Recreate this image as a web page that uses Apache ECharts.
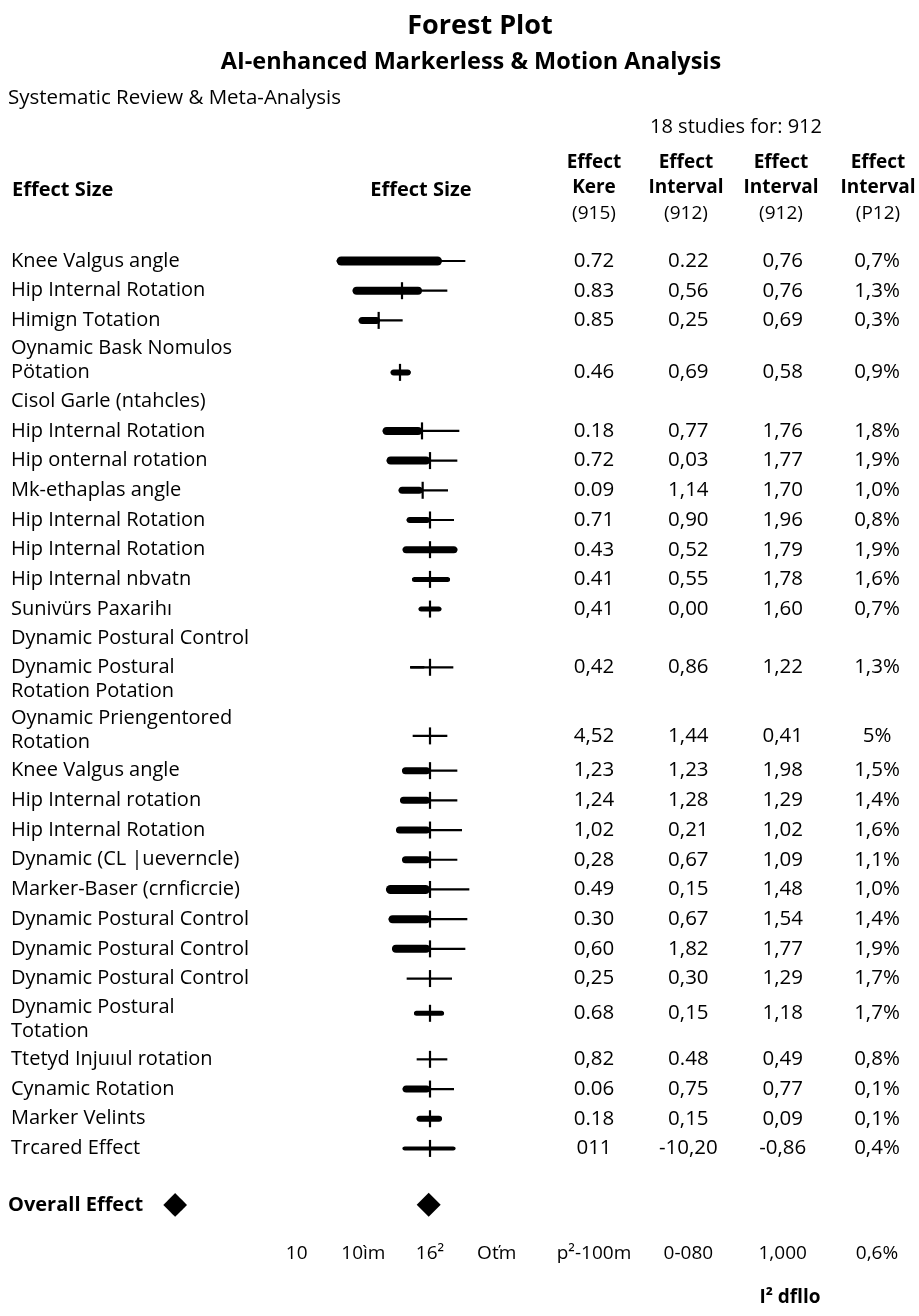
<!DOCTYPE html>
<html><head><meta charset="utf-8">
<script src="https://cdn.jsdelivr.net/npm/echarts@6/dist/echarts.min.js"></script>
<style>html,body{margin:0;padding:0;background:#fff}#c{width:919px;height:1316px}</style>
</head><body><div id="c"></div>
<script>
// ---------------- DATA ----------------
const studyLabels = [
  'Knee Valgus angle','Hip Internal Rotation','Himign Totation','Oynamic Bask Nomulos\nPötation',
  'Cisol Garle (ntahcles)','Hip Internal Rotation','Hip onternal rotation','Mk-ethaplas angle',
  'Hip Internal Rotation','Hip Internal Rotation','Hip Internal nbvatn','Sunivürs Paxarihı',
  'Dynamic Postural Control','Dynamic Postural\nRotation Potation','Oynamic Priengentored\nRotation',
  'Knee Valgus angle','Hip Internal rotation','Hip Internal Rotation','Dynamic (CL |ueverncle)',
  'Marker-Baser (crnficrcie)','Dynamic Postural Control','Dynamic Postural Control','Dynamic Postural Control',
  'Dynamic Postural\nTotation','Ttetyd Injuıul rotation','Cynamic Rotation','Marker Velints','Trcared Effect'
];
// forest interval: lower bound, end of heavy segment, point estimate, upper bound
const ciLow    = [-1.40,-1.16,-1.07,-0.59,null,-0.71,-0.65,-0.47,-0.35,-0.41,-0.27,-0.17,null,-0.30,-0.26,-0.42,-0.45,-0.51,-0.42,-0.66,-0.62,-0.57,-0.35,-0.24,-0.20,-0.41,-0.20,-0.41];
const heavyEnd = [ 0.18,-0.12,-0.75,-0.29,null,-0.12, 0.00,-0.11, 0.00, 0.41, 0.30, 0.17,null,-0.08,-0.26, 0.00, 0.00, 0.00, 0.00, 0.00, 0.00, 0.00,-0.35, 0.21,-0.20, 0.00, 0.18, 0.38];
const estimate = [ null,-0.42,-0.77,-0.45,null,-0.12, 0.00,-0.11, 0.00, 0.00, 0.00, 0.00,null, 0.00, 0.00, 0.00, 0.00, 0.00, 0.00, 0.00, 0.00, 0.00, 0.00, 0.00, 0.00, 0.00, 0.00, 0.00];
const ciHigh   = [ 0.53, 0.26,-0.41,-0.29,null, 0.44, 0.41, 0.27, 0.36, 0.41, 0.30, 0.17,null, 0.35, 0.26, 0.41, 0.41, 0.48, 0.41, 0.59, 0.56, 0.53, 0.33, 0.21, 0.26, 0.36, 0.18, 0.38];
const studyWeight = [9,8,7,6,null,8,8,7,6,7,5,5,null,2.5,1.5,7,7,7,7,9,8,8,2.5,5,1.5,7,6,4];
const overallEstimate = -0.02;

const colEffectKere = ['0.72','0.83','0.85','0.46','','0.18','0.72','0.09','0.71','0.43','0.41','0,41','','0,42','4,52','1,23','1,24','1,02','0,28','0.49','0.30','0,60','0,25','0.68','0,82','0.06','0.18','011'];
const colInterval1  = ['0.22','0,56','0,25','0,69','','0,77','0,03','1,14','0,90','0,52','0,55','0,00','','0,86','1,44','1,23','1,28','0,21','0,67','0,15','0,67','1,82','0,30','0,15','0.48','0,75','0,15','-10,20'];
const colInterval2  = ['0,76','0,76','0,69','0,58','','1,76','1,77','1,70','1,96','1,79','1,78','1,60','','1,22','0,41','1,98','1,29','1,02','1,09','1,48','1,54','1,77','1,29','1,18','0,49','0,77','0,09','-0,86'];
const colP12        = ['0,7%','1,3%','0,3%','0,9%','','1,8%','1,9%','1,0%','0,8%','1,9%','1,6%','0,7%','','1,3%','5%','1,5%','1,4%','1,6%','1,1%','1,0%','1,4%','1,9%','1,7%','1,7%','0,8%','0,1%','0,1%','0,4%'];

const headerLine1 = ['Effect','Effect','Effect','Effect'];
const headerLine2 = ['Kere','Interval','Interval','Interval'];
const headerLine3 = ['(915)','(912)','(912)','(P12)'];
const forestTickLabels = ['10','10ìm','16²','Oťm',''];
const tableTickLabels = ['p²-100m','0-080','1,000','0,6%'];

// ---------------- LAYOUT ----------------
const FONT = '"Open Sans", "Noto Sans", sans-serif';
const SLOT = 29.7;          // px per row slot
const FIRST_ROW_Y = 261;    // px of first row centre
const EXTRA_HALF = 0.36;    // extra slot (half) per extra label line
const markShift = {3: 0.39, 13: -0.4, 14: 0.19, 23: -0.19};

const lineCount = studyLabels.map(s => s.split('\n').length);
const rowSlot = [];
lineCount.forEach((n, i) => {
  if (i === 0) rowSlot.push(0);
  else rowSlot.push(rowSlot[i - 1] + 1 + EXTRA_HALF * ((lineCount[i - 1] - 1) + (n - 1)));
});
const markSlot = rowSlot.map((s, i) => s + (markShift[i] || 0));
const overallSlot = rowSlot[rowSlot.length - 1] + 1.9;
const yMax = overallSlot + 1.02;
const gridTop = FIRST_ROW_Y - 0.5 * SLOT;
const gridHeight = (yMax + 0.5) * SLOT;

const forestData = [];
ciLow.forEach((lo, i) => {
  if (lo === null) return;
  forestData.push([lo, markSlot[i], heavyEnd[i], estimate[i] === null ? NaN : estimate[i], ciHigh[i], studyWeight[i]]);
});
const labelData = studyLabels.map((t, i) => [0, rowSlot[i], i]);
const tableColumns = [colEffectKere, colInterval1, colInterval2, colP12];
const tableData = [];
tableColumns.forEach((col, c) => col.forEach((v, i) => { if (v !== '') tableData.push([c, markSlot[i], c * 1000 + i]); }));

const chart = echarts.init(document.getElementById('c'), null, {renderer: 'canvas'});

const yAxisCommon = {type: 'value', inverse: true, min: -0.5, max: yMax, show: false};

const graphics = [
  {type: 'text', x: 480, y: 26, style: {text: 'Forest Plot', font: 'bold 27px ' + FONT, fill: '#000', align: 'center', verticalAlign: 'middle'}},
  {type: 'text', x: 471, y: 62, style: {text: 'AI-enhanced Markerless & Motion Analysis', font: 'bold 23.5px ' + FONT, fill: '#000', align: 'center', verticalAlign: 'middle'}},
  {type: 'text', x: 8, y: 98, style: {text: 'Systematic Review & Meta-Analysis', font: '20.5px ' + FONT, fill: '#000', align: 'left', verticalAlign: 'middle'}},
  {type: 'text', x: 736, y: 127, style: {text: '18 studies for: 912', font: '20px ' + FONT, fill: '#000', align: 'center', verticalAlign: 'middle'}},
  {type: 'text', x: 12, y: 190, style: {text: 'Effect Size', font: 'bold 20px ' + FONT, fill: '#000', align: 'left', verticalAlign: 'middle'}},
  {type: 'text', x: 421, y: 190, style: {text: 'Effect Size', font: 'bold 20px ' + FONT, fill: '#000', align: 'center', verticalAlign: 'middle'}},
  {type: 'text', x: 790, y: 1298, style: {text: 'I² dfllo', font: 'bold 19px ' + FONT, fill: '#000', align: 'center', verticalAlign: 'middle'}},
  {type: 'text', x: 8, y: 1205, style: {
    text: '{a|Overall Effect}{b|◆}', align: 'left', verticalAlign: 'middle',
    rich: {a: {font: 'bold 20px ' + FONT, fill: '#000', padding: [0, 20, 0, 0]}, b: {fontSize: 31, fontFamily: 'DejaVu Sans', fill: '#000'}}
  }}
];
const headerX = [594, 686, 781, 878];
headerX.forEach((x, c) => {
  graphics.push({type: 'text', x: x, y: 188, style: {
    text: '{b|' + headerLine1[c] + '}\n{b|' + headerLine2[c] + '}\n{r|' + headerLine3[c] + '}',
    align: 'center', verticalAlign: 'middle',
    rich: {b: {font: 'bold 19px ' + FONT, fill: '#000', lineHeight: 25.5, align: 'center'}, r: {font: '19px ' + FONT, fill: '#000', lineHeight: 25.5, align: 'center'}}
  }});
});

chart.setOption({
  animation: false,
  backgroundColor: '#fff',
  grid: [
    {left: 430 - 133.333, width: 266.667, top: gridTop, height: gridHeight},
    {left: 594, width: 283, top: gridTop, height: gridHeight}
  ],
  xAxis: [
    {gridIndex: 0, type: 'value', min: -2, max: 2, interval: 1, axisLine: {show: false}, axisTick: {show: false}, splitLine: {show: false},
      axisLabel: {margin: 9, color: '#000', fontSize: 19, fontFamily: FONT, formatter: (v, idx) => forestTickLabels[idx] || ''}},
    {gridIndex: 1, type: 'value', min: 0, max: 3, interval: 1, axisLine: {show: false}, axisTick: {show: false}, splitLine: {show: false},
      axisLabel: {margin: 9, color: '#000', fontSize: 19, fontFamily: FONT, formatter: (v, idx) => tableTickLabels[idx] || ''}}
  ],
  yAxis: [Object.assign({gridIndex: 0}, yAxisCommon), Object.assign({gridIndex: 1}, yAxisCommon)],
  graphic: graphics,
  series: [
    {
      type: 'custom', xAxisIndex: 0, yAxisIndex: 0, data: forestData,
      encode: {x: [0, 2, 3, 4], y: 1},
      renderItem: (params, api) => {
        const y = api.value(1);
        const pLo = api.coord([api.value(0), y]);
        const pHe = api.coord([api.value(2), y]);
        const pHi = api.coord([api.value(4), y]);
        const est = api.value(3);
        const w = api.value(5);
        const py = pLo[1];
        const children = [
          {type: 'line', shape: {x1: pLo[0], y1: py, x2: pHi[0], y2: py}, style: {stroke: '#000', lineWidth: 2.2}},
          {type: 'rect', shape: {x: pLo[0], y: py - w / 2, width: Math.max(pHe[0] - pLo[0], 0), height: w, r: w / 2}, style: {fill: '#000'}}
        ];
        if (!isNaN(est)) {
          const pE = api.coord([est, y]);
          children.push({type: 'line', shape: {x1: pE[0], y1: py - 8.5, x2: pE[0], y2: py + 8.5}, style: {stroke: '#000', lineWidth: 2.2}});
        }
        return {type: 'group', children: children};
      }
    },
    {
      type: 'custom', xAxisIndex: 0, yAxisIndex: 0, data: labelData,
      encode: {y: 1},
      renderItem: (params, api) => {
        const p = api.coord([api.value(0), api.value(1)]);
        const i = api.value(2);
        return {type: 'text', x: 11, y: p[1], style: {text: studyLabels[i], font: '20px ' + FONT, fill: '#000', align: 'left', verticalAlign: 'middle', lineHeight: 24}};
      }
    },
    {
      type: 'custom', xAxisIndex: 1, yAxisIndex: 1, data: tableData,
      encode: {x: 0, y: 1},
      renderItem: (params, api) => {
        const p = api.coord([api.value(0), api.value(1)]);
        const key = api.value(2);
        const c = Math.floor(key / 1000), i = key % 1000;
        return {type: 'text', x: p[0], y: p[1], style: {text: tableColumns[c][i], font: '20.5px ' + FONT, fill: '#000', align: 'center', verticalAlign: 'middle'}};
      }
    },
    {
      type: 'scatter', xAxisIndex: 0, yAxisIndex: 0, symbol: 'diamond', symbolSize: [24, 24],
      itemStyle: {color: '#000', opacity: 1}, emphasis: {disabled: true}, data: [[overallEstimate, overallSlot]], silent: true
    }
  ]
});
</script></body></html>
